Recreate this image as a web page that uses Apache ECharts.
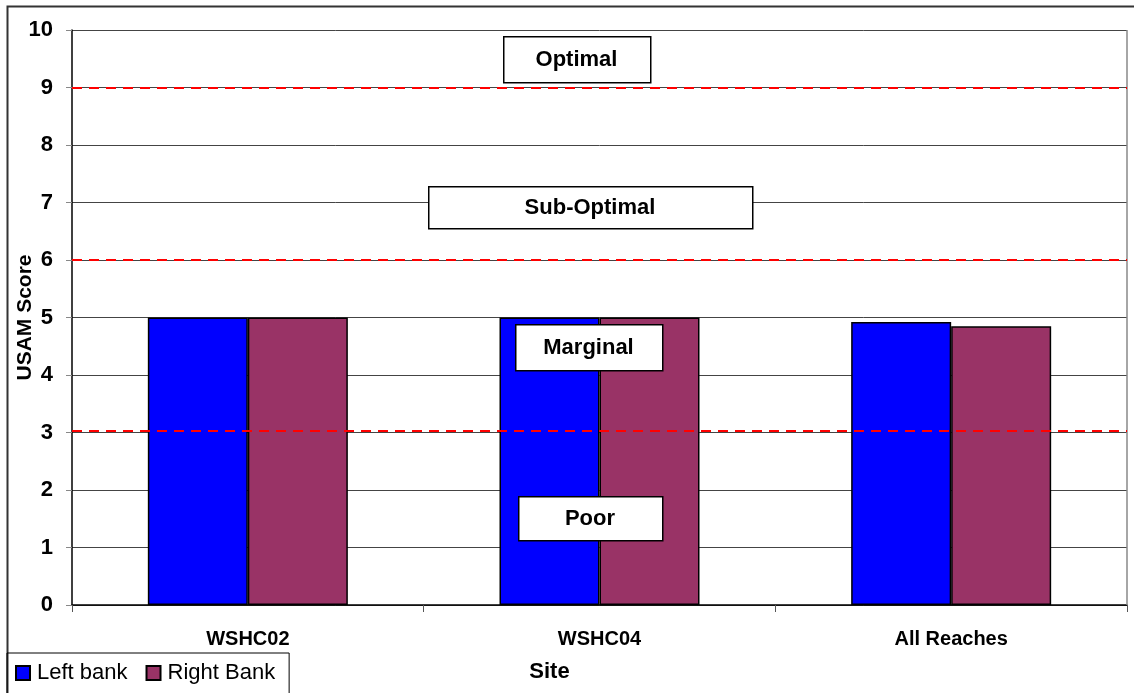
<!DOCTYPE html>
<html>
<head>
<meta charset="utf-8">
<script src="https://cdn.jsdelivr.net/npm/echarts@6/dist/echarts.min.js"></script>
<style>
  html, body { margin: 0; padding: 0; background: #fff; }
  #chart { width: 1134px; height: 693px; }
</style>
</head>
<body>
<div id="chart"></div>
<script>
    var sites = ['WSHC02', 'WSHC04', 'All Reaches'];
    var leftBank = [5, 5, 4.92];
    var rightBank = [5, 5, 4.85];
    var thresholds = [9, 6, 3.03];

    var myChart = echarts.init(document.getElementById('chart'));
    var font = 'Arial, "Liberation Sans", sans-serif';

    // white label boxes for the condition bands
    function band(text, left, top, w, h) {
        return [{
            type: 'rect', left: left, top: top, z: 100,
            shape: { width: w, height: h },
            style: { fill: '#fff', stroke: '#000', lineWidth: 1.5 }
        }, {
            type: 'text', z: 101,
            x: left + w / 2, y: top + h / 2 + 1,
            style: { text: text, fill: '#000', font: 'bold 22px ' + font, align: 'center', verticalAlign: 'middle' }
        }];
    }

    var option = {
        animation: false,
        backgroundColor: '#fff',
        grid: { left: 72, right: 7, top: 30, bottom: 88, outerBoundsMode: 'none', containLabel: false },
        legend: {
            data: ['Left bank', 'Right Bank'],
            left: 7, top: 653,
            padding: [9, 14, 12, 8],
            itemGap: 18,
            itemWidth: 14, itemHeight: 14,
            icon: 'rect',
            borderColor: '#000', borderWidth: 1,
            textStyle: { fontFamily: font, fontSize: 22, color: '#000', padding: [0, 0, 0, 2] }
        },
        xAxis: [{
            type: 'category',
            data: sites,
            name: 'Site',
            nameLocation: 'middle',
            nameGap: 56,
            nameMoveOverlap: false,
            nameTextStyle: { fontFamily: font, fontWeight: 'bold', fontSize: 22, color: '#000', padding: [0, 100, 0, 0] },
            axisLine: { lineStyle: { color: '#000', width: 1.5 } },
            axisTick: { show: true, length: 7, lineStyle: { color: '#555' } },
            axisLabel: { fontFamily: font, fontWeight: 'bold', fontSize: 20, color: '#000', margin: 24 },
            splitLine: { show: false }
        }],
        yAxis: [{
            type: 'value',
            min: 0, max: 10, interval: 1,
            name: 'USAM Score',
            nameLocation: 'middle',
            nameGap: 36,
            nameMoveOverlap: false,
            nameTextStyle: { fontFamily: font, fontWeight: 'bold', fontSize: 21, color: '#000' },
            axisLine: { show: true, lineStyle: { color: '#000', width: 1.5 } },
            axisTick: { show: true, length: 6, lineStyle: { color: '#888' } },
            axisLabel: { fontFamily: font, fontWeight: 'bold', fontSize: 22, color: '#000', margin: 19 },
            splitLine: { show: true, lineStyle: { color: '#444', width: 1 } }
        }],
        series: [{
            name: 'Left bank',
            type: 'bar',
            barWidth: 100,
            barGap: 0,
            itemStyle: { color: '#0000ff', borderColor: '#000', borderWidth: 1.5 },
            data: leftBank,
            markLine: {
                symbol: 'none',
                silent: true,
                z: 50,
                label: { show: false },
                lineStyle: { color: '#ff0000', type: [10, 7], width: 2 },
                data: thresholds.map(function (v) { return { yAxis: v }; })
            }
        }, {
            name: 'Right Bank',
            type: 'bar',
            barWidth: 100,
            itemStyle: { color: '#993366', borderColor: '#000', borderWidth: 1.5 },
            data: rightBank
        }],
        graphic: [
            {
                type: 'rect', left: 5, top: 4, z: -1,
                shape: { width: 1130, height: 692 },
                style: { fill: 'none', stroke: '#333', lineWidth: 2 }
            },
            {
                type: 'line', z: 50,
                shape: { x1: 1127, y1: 30, x2: 1127, y2: 605 },
                style: { stroke: '#888', lineWidth: 1.5 }
            }
        ].concat(
            band('Optimal', 503, 36, 147, 46),
            band('Sub-Optimal', 428, 186, 324, 42),
            band('Marginal', 515, 324, 147, 46),
            band('Poor', 518, 496, 144, 44)
        )
    };
    myChart.setOption(option);
</script>
</body>
</html>
